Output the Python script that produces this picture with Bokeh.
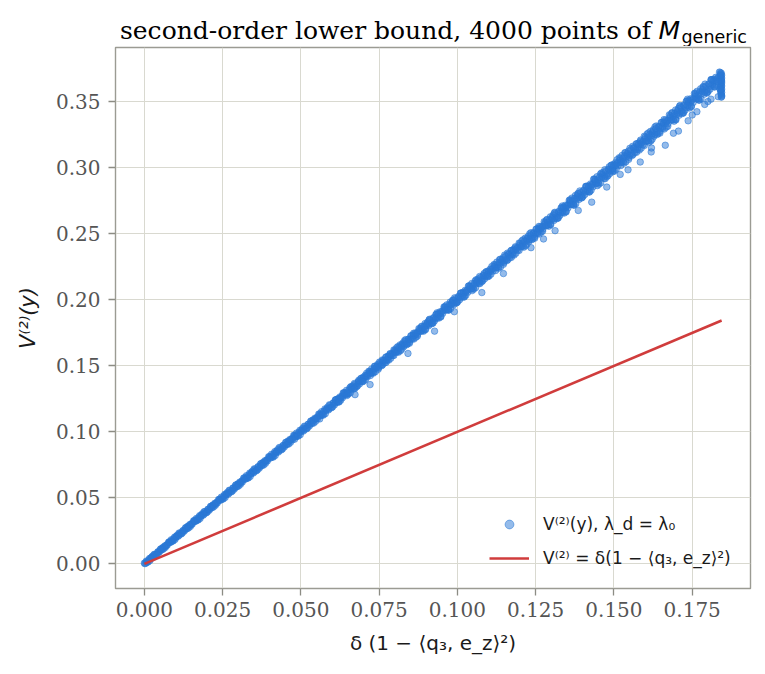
from bokeh.plotting import figure
from bokeh.layouts import column
from bokeh.models import Range1d, FixedTicker, PrintfTickFormatter, Label, Legend, LegendItem
from bokeh.embed import file_html
from bokeh.resources import INLINE

# ---- data (points of the scatter band) ----
xs = [
0.0000,0.0005,0.0008,0.0012,0.0017,0.0020,0.0023,0.0028,0.0031,0.0036,
0.0041,0.0044,0.0049,0.0053,0.0056,0.0059,0.0065,0.0067,0.0072,0.0077,
0.0080,0.0085,0.0088,0.0092,0.0097,0.0100,0.0103,0.0108,0.0111,0.0116,
0.0121,0.0124,0.0129,0.0133,0.0136,0.0139,0.0145,0.0147,0.0152,0.0157,
0.0160,0.0165,0.0168,0.0172,0.0177,0.0180,0.0183,0.0188,0.0191,0.0196,
0.0201,0.0204,0.0209,0.0213,0.0216,0.0219,0.0225,0.0227,0.0232,0.0237,
0.0240,0.0245,0.0248,0.0252,0.0257,0.0260,0.0263,0.0268,0.0271,0.0276,
0.0281,0.0284,0.0289,0.0293,0.0296,0.0299,0.0305,0.0307,0.0312,0.0317,
0.0320,0.0325,0.0328,0.0332,0.0337,0.0340,0.0343,0.0348,0.0351,0.0356,
0.0361,0.0364,0.0369,0.0373,0.0376,0.0379,0.0385,0.0387,0.0392,0.0397,
0.0400,0.0405,0.0408,0.0412,0.0417,0.0420,0.0423,0.0428,0.0431,0.0436,
0.0441,0.0444,0.0449,0.0453,0.0456,0.0459,0.0465,0.0467,0.0472,0.0477,
0.0480,0.0485,0.0488,0.0492,0.0497,0.0500,0.0503,0.0508,0.0511,0.0516,
0.0521,0.0524,0.0529,0.0533,0.0536,0.0539,0.0545,0.0547,0.0552,0.0557,
0.0560,0.0565,0.0568,0.0572,0.0577,0.0580,0.0583,0.0588,0.0591,0.0596,
0.0601,0.0604,0.0609,0.0613,0.0616,0.0619,0.0625,0.0627,0.0632,0.0637,
0.0640,0.0645,0.0648,0.0652,0.0657,0.0660,0.0663,0.0668,0.0671,0.0676,
0.0681,0.0684,0.0689,0.0693,0.0696,0.0699,0.0705,0.0707,0.0712,0.0717,
0.0720,0.0725,0.0728,0.0732,0.0737,0.0740,0.0743,0.0748,0.0751,0.0756,
0.0761,0.0764,0.0769,0.0773,0.0776,0.0779,0.0785,0.0787,0.0792,0.0797,
0.0800,0.0805,0.0808,0.0812,0.0817,0.0820,0.0823,0.0828,0.0831,0.0836,
0.0841,0.0844,0.0849,0.0853,0.0856,0.0859,0.0865,0.0867,0.0872,0.0877,
0.0880,0.0885,0.0888,0.0892,0.0897,0.0900,0.0903,0.0908,0.0911,0.0916,
0.0921,0.0924,0.0929,0.0933,0.0936,0.0939,0.0945,0.0947,0.0952,0.0957,
0.0960,0.0965,0.0968,0.0972,0.0977,0.0980,0.0983,0.0988,0.0991,0.0996,
0.1001,0.1004,0.1009,0.1013,0.1016,0.1019,0.1025,0.1027,0.1032,0.1037,
0.1040,0.1045,0.1048,0.1052,0.1057,0.1060,0.1063,0.1068,0.1071,0.1076,
0.1081,0.1084,0.1089,0.1093,0.1096,0.1099,0.1105,0.1107,0.1112,0.1117,
0.1120,0.1125,0.1128,0.1132,0.1137,0.1140,0.1143,0.1148,0.1151,0.1156,
0.1161,0.1164,0.1169,0.1173,0.1176,0.1179,0.1185,0.1187,0.1192,0.1197,
0.1200,0.1205,0.1208,0.1212,0.1217,0.1220,0.1223,0.1228,0.1231,0.1236,
0.1241,0.1244,0.1249,0.1253,0.1256,0.1259,0.1265,0.1267,0.1272,0.1277,
0.1280,0.1285,0.1288,0.1292,0.1297,0.1300,0.1303,0.1308,0.1311,0.1316,
0.1321,0.1324,0.1329,0.1333,0.1336,0.1339,0.1345,0.1347,0.1352,0.1357,
0.1360,0.1365,0.1368,0.1372,0.1377,0.1380,0.1383,0.1388,0.1391,0.1396,
0.1401,0.1404,0.1409,0.1413,0.1416,0.1419,0.1425,0.1427,0.1432,0.1437,
0.1440,0.1445,0.1448,0.1452,0.1457,0.1460,0.1463,0.1468,0.1471,0.1476,
0.1481,0.1484,0.1489,0.1493,0.1496,0.1499,0.1505,0.1507,0.1512,0.1517,
0.1520,0.1525,0.1528,0.1532,0.1537,0.1540,0.1543,0.1548,0.1551,0.1556,
0.1561,0.1564,0.1569,0.1573,0.1576,0.1579,0.1585,0.1587,0.1592,0.1597,
0.1600,0.1605,0.1608,0.1612,0.1617,0.1620,0.1623,0.1628,0.1631,0.1636,
0.1641,0.1644,0.1649,0.1653,0.1656,0.1659,0.1665,0.1667,0.1672,0.1677,
0.1680,0.1685,0.1688,0.1692,0.1697,0.1700,0.1703,0.1708,0.1711,0.1716,
0.1721,0.1724,0.1729,0.1733,0.1736,0.1739,0.1745,0.1747,0.1752,0.1757,
0.1760,0.1765,0.1768,0.1772,0.1777,0.1780,0.1783,0.1788,0.1791,0.1796,
0.1801,0.1804,0.1809,0.1813,0.1816,0.1819,0.1825,0.1827,0.1832,0.1837,
0.1840,0.1843,0.1841,0.1844,0.1842,0.1839,0.1844,0.1843,0.1841,0.1844,
0.1842,0.1844,0.1840,0.1843,0.1844,0.1842,0.1838,0.1844,0.1843,0.1841,
0.1844,0.1842,0.1843,0.1844,0.1839,0.1844,0.1843,0.1842,
0.1664,0.1706,0.1619,0.1477,0.1765,0.1737,0.1833,0.1386,0.1429,0.1584,
0.0927,0.1147,0.1078,0.0721,0.0673,0.0842,0.1275,0.1312,0.1545,0.1690,
0.1790,0.1800,0.1520,0.1235,0.0990,0.0560,0.0480,0.1620,0.1750,0.1810,
.0002,.0006,.0010,.0014,.0018,.0022,.0026,.0030,.0034,.0038,
.0043,.0047,.0051,.0055,.0059,.0061,.0065,.0069,.0073,.0079,
.0082,.0086,.0090,.0094,.0098,.0102,.0106,.0110,.0114,.0118,
.0123,.0127,.0131,.0135,.0139,.0141,.0145,.0149,.0153,.0159,
.0162,.0166,.0170,.0174,.0178,.0182,.0186,.0190,.0194,.0198,
.0203,.0207,.0211,.0215,.0219,.0221,.0225,.0229,.0233,.0239,
.0242,.0246,.0250,.0254,.0258,.0262,.0266,.0270,.0274,.0278,
.0283,.0287,.0291,.0295,.0299,.0301,.0305,.0309,.0313,.0319,
.0322,.0326,.0330,.0334,.0338,.0342,.0346,.0350,.0354,.0358,
.0363,.0367,.0371,.0375,.0379,.0381,.0385,.0389,.0393,.0399,
.0402,.0406,.0410,.0414,.0418,.0422,.0426,.0430,.0434,.0438,
.0443,.0447,.0451,.0455,.0459,.0461,.0465,.0469,.0473,.0479,
.0482,.0486,.0490,.0494,.0498,.0502,.0506,.0510,.0514,.0518,
.0523,.0527,.0531,.0535,.0539,.0541,.0545,.0549,.0553,.0559,
.0562,.0566,.0570,.0574,.0578,.0582,.0586,.0590,.0594,.0598,
.0603,.0607,.0611,.0615,.0619,.0621,.0625,.0629,.0633,.0639,
.0642,.0646,.0650,.0654,.0658,.0662,.0666,.0670,.0674,.0678,
.0683,.0687,.0691,.0695,.0699,.0701,.0705,.0709,.0713,.0719,
.0722,.0726,.0730,.0734,.0738,.0742,.0746,.0750,.0754,.0758,
.0763,.0767,.0771,.0775,.0779,.0781,.0785,.0789,.0793,.0799,
.0802,.0806,.0810,.0814,.0818,.0822,.0826,.0830,.0834,.0838,
.0843,.0847,.0851,.0855,.0859,.0861,.0865,.0869,.0873,.0879,
.0882,.0886,.0890,.0894,.0898,.0902,.0906,.0910,.0914,.0918,
.0923,.0927,.0931,.0935,.0939,.0941,.0945,.0949,.0953,.0959,
.0962,.0966,.0970,.0974,.0978,.0982,.0986,.0990,.0994,.0998,
.1003,.1007,.1011,.1015,.1019,.1021,.1025,.1029,.1033,.1039,
.1042,.1046,.1050,.1054,.1058,.1062,.1066,.1070,.1074,.1078,
.1083,.1087,.1091,.1095,.1099,.1101,.1105,.1109,.1113,.1119,
.1122,.1126,.1130,.1134,.1138,.1142,.1146,.1150,.1154,.1158,
.1163,.1167,.1171,.1175,.1179,.1181,.1185,.1189,.1193,.1199,
.1202,.1206,.1210,.1214,.1218,.1222,.1226,.1230,.1234,.1238,
.1243,.1247,.1251,.1255,.1259,.1261,.1265,.1269,.1273,.1279,
.1282,.1286,.1290,.1294,.1298,.1302,.1306,.1310,.1314,.1318,
.1323,.1327,.1331,.1335,.1339,.1341,.1345,.1349,.1353,.1359,
.1362,.1366,.1370,.1374,.1378,.1382,.1386,.1390,.1394,.1398,
.1403,.1407,.1411,.1415,.1419,.1421,.1425,.1429,.1433,.1439,
.1442,.1446,.1450,.1454,.1458,.1462,.1466,.1470,.1474,.1478,
.1483,.1487,.1491,.1495,.1499,.1501,.1505,.1509,.1513,.1519,
.1522,.1526,.1530,.1534,.1538,.1542,.1546,.1550,.1554,.1558,
.1563,.1567,.1571,.1575,.1579,.1581,.1585,.1589,.1593,.1599,
.1602,.1606,.1610,.1614,.1618,.1622,.1626,.1630,.1634,.1638,
.1643,.1647,.1651,.1655,.1659,.1661,.1665,.1669,.1673,.1679,
.1682,.1686,.1690,.1694,.1698,.1702,.1706,.1710,.1714,.1718,
.1723,.1727,.1731,.1735,.1739,.1741,.1745,.1749,.1753,.1759,
.1762,.1766,.1770,.1774,.1778,.1782,.1786,.1790,.1794,.1798,
.1803,.1807,.1811,.1815,.1819,.1821,.1825,.1829,.1833,.1839,
.0610,.0635,.0660,.0685,.0710,.0735,.0760,.0785,.0810,.0835,
.0860,.0885,.0910,.0935,.0960,.0985,.1010,.1035,.1060,.1085,
.1110,.1135,.1160,.1185,.1210,.1235,.1260,.1285,.1310,.1335,
.1360,.1385,.1410,.1435,.1460,.1485,.1510,.1535,.1560,.1585,
.1610,.1635,.1660,.1685,.1710,.1735,.1760,.1785,.1810,
.0622,.0647,.0672,.0697,.0722,.0747,.0772,.0797,.0822,.0847,
.0872,.0897,.0922,.0947,.0972,.0997,.1022,.1047,.1072,.1097,
.1122,.1147,.1172,.1197,.1222,.1247,.1272,.1297,.1322,.1347,
.1372,.1397,.1422,.1447,.1472,.1497,.1522,.1547,.1572,.1597,
.1622,.1647,.1672,.1697,.1722,.1747,.1772,.1797,.1822,
]
ys = [
0.0006,0.0006,0.0017,0.0015,0.0042,0.0039,0.0050,0.0050,0.0072,0.0069,
0.0074,0.0092,0.0096,0.0114,0.0107,0.0124,0.0130,0.0125,0.0146,0.0164,
0.0168,0.0166,0.0178,0.0174,0.0204,0.0199,0.0211,0.0209,0.0234,0.0229,
0.0234,0.0252,0.0256,0.0276,0.0266,0.0285,0.0291,0.0284,0.0307,0.0326,
0.0329,0.0325,0.0338,0.0333,0.0366,0.0359,0.0372,0.0369,0.0396,0.0389,
0.0393,0.0413,0.0416,0.0437,0.0426,0.0446,0.0451,0.0444,0.0468,0.0488,
0.0490,0.0485,0.0499,0.0492,0.0527,0.0520,0.0533,0.0528,0.0558,0.0549,
0.0552,0.0574,0.0576,0.0599,0.0585,0.0607,0.0611,0.0603,0.0629,0.0650,
0.0652,0.0645,0.0659,0.0651,0.0689,0.0680,0.0694,0.0688,0.0720,0.0709,
0.0712,0.0735,0.0736,0.0760,0.0745,0.0769,0.0772,0.0762,0.0789,0.0812,
0.0813,0.0805,0.0820,0.0809,0.0851,0.0840,0.0855,0.0847,0.0882,0.0869,
0.0871,0.0896,0.0896,0.0922,0.0905,0.0930,0.0932,0.0921,0.0950,0.0974,
0.0974,0.0964,0.0980,0.0968,0.1012,0.1000,0.1016,0.1006,0.1043,0.1028,
0.1030,0.1057,0.1056,0.1083,0.1064,0.1091,0.1093,0.1080,0.1111,0.1135,
0.1136,0.1124,0.1141,0.1127,0.1174,0.1161,0.1177,0.1166,0.1205,0.1188,
0.1189,0.1218,0.1217,0.1245,0.1224,0.1252,0.1253,0.1239,0.1272,0.1297,
0.1297,0.1284,0.1302,0.1286,0.1336,0.1321,0.1339,0.1325,0.1367,0.1348,
0.1349,0.1379,0.1377,0.1406,0.1383,0.1413,0.1413,0.1398,0.1432,0.1459,
0.1459,0.1444,0.1462,0.1445,0.1497,0.1481,0.1500,0.1485,0.1529,0.1508,
0.1508,0.1540,0.1537,0.1568,0.1543,0.1575,0.1574,0.1557,0.1593,0.1621,
0.1620,0.1603,0.1623,0.1604,0.1659,0.1641,0.1661,0.1644,0.1691,0.1668,
0.1667,0.1700,0.1697,0.1729,0.1703,0.1736,0.1734,0.1716,0.1754,0.1783,
0.1781,0.1763,0.1783,0.1763,0.1821,0.1802,0.1822,0.1804,0.1853,0.1828,
0.1826,0.1861,0.1857,0.1891,0.1862,0.1897,0.1895,0.1876,0.1914,0.1945,
0.1943,0.1923,0.1944,0.1922,0.1983,0.1962,0.1983,0.1963,0.2015,0.1988,
0.1986,0.2022,0.2017,0.2052,0.2022,0.2058,0.2055,0.2035,0.2075,0.2106,
0.2104,0.2083,0.2104,0.2081,0.2144,0.2122,0.2144,0.2123,0.2177,0.2148,
0.2145,0.2183,0.2177,0.2214,0.2181,0.2219,0.2215,0.2194,0.2236,0.2268,
0.2265,0.2243,0.2265,0.2240,0.2306,0.2282,0.2305,0.2282,0.2339,0.2308,
0.2304,0.2344,0.2337,0.2375,0.2341,0.2381,0.2376,0.2353,0.2397,0.2430,
0.2427,0.2402,0.2425,0.2399,0.2468,0.2443,0.2466,0.2441,0.2501,0.2468,
0.2464,0.2505,0.2497,0.2537,0.2501,0.2542,0.2536,0.2512,0.2557,0.2592,
0.2588,0.2562,0.2586,0.2558,0.2629,0.2603,0.2627,0.2601,0.2663,0.2628,
0.2623,0.2666,0.2657,0.2698,0.2660,0.2703,0.2697,0.2671,0.2718,0.2754,
0.2749,0.2722,0.2747,0.2717,0.2791,0.2763,0.2788,0.2760,0.2825,0.2788,
0.2782,0.2827,0.2817,0.2860,0.2820,0.2864,0.2857,0.2830,0.2879,0.2916,
0.2911,0.2882,0.2907,0.2876,0.2953,0.2923,0.2949,0.2920,0.2986,0.2947,
0.2941,0.2987,0.2977,0.3021,0.2979,0.3025,0.3017,0.2989,0.3039,0.3077,
0.3072,0.3041,0.3068,0.3035,0.3114,0.3084,0.3110,0.3079,0.3148,0.3107,
0.3101,0.3148,0.3138,0.3183,0.3139,0.3187,0.3178,0.3149,0.3200,0.3239,
0.3233,0.3201,0.3228,0.3194,0.3276,0.3244,0.3271,0.3239,0.3310,0.3267,
0.3260,0.3309,0.3298,0.3344,0.3299,0.3348,0.3338,0.3308,0.3361,0.3401,
0.3395,0.3361,0.3389,0.3353,0.3438,0.3404,0.3432,0.3398,0.3472,0.3427,
0.3419,0.3470,0.3458,0.3506,0.3458,0.3509,0.3499,0.3467,0.3522,0.3563,
0.3556,0.3521,0.3549,0.3512,0.3599,0.3564,0.3593,0.3557,0.3634,0.3587,
0.3579,0.3631,0.3618,0.3668,0.3618,0.3670,0.3659,0.3626,0.3682,0.3725,
0.3721,0.3716,0.3709,0.3702,0.3695,0.3688,0.3680,0.3672,0.3665,0.3657,
0.3650,0.3643,0.3636,0.3628,0.3620,0.3612,0.3604,0.3596,0.3588,0.3580,
0.3571,0.3563,0.3555,0.3547,0.3594,0.3540,0.3535,0.3661,
0.3171,0.3278,0.3120,0.2854,0.3425,0.3356,0.3539,0.2677,0.2740,0.3044,
0.1763,0.2199,0.2055,0.1358,0.1282,0.1594,0.2461,0.2524,0.2985,0.3262,
0.3480,0.3502,0.2950,0.2395,0.1910,0.1098,0.0945,0.3150,0.3400,0.3520,
.0002,.0021,.0014,.0032,.0026,.0046,.0059,.0056,.0073,.0068,
.0091,.0088,.0111,.0109,.0121,.0113,.0136,.0139,.0141,.0162,
.0162,.0183,.0174,.0193,.0185,.0206,.0220,.0216,.0234,.0227,
.0252,.0247,.0272,.0269,.0282,.0272,.0298,.0300,.0301,.0322,
.0322,.0344,.0333,.0354,.0344,.0367,.0382,.0376,.0396,.0387,
.0414,.0406,.0434,.0429,.0443,.0431,.0459,.0460,.0461,.0483,
.0482,.0506,.0493,.0515,.0503,.0528,.0543,.0536,.0557,.0546,
.0575,.0566,.0595,.0589,.0603,.0590,.0620,.0621,.0620,.0644,
.0642,.0668,.0652,.0676,.0662,.0688,.0705,.0696,.0718,.0705,
.0736,.0725,.0757,.0749,.0764,.0749,.0782,.0782,.0780,.0805,
.0802,.0830,.0812,.0836,.0821,.0849,.0866,.0856,.0879,.0864,
.0897,.0885,.0919,.0909,.0925,.0908,.0943,.0942,.0940,.0966,
.0962,.0991,.0971,.0997,.0979,.1009,.1027,.1015,.1040,.1023,
.1058,.1044,.1080,.1070,.1086,.1067,.1104,.1103,.1099,.1127,
.1123,.1153,.1131,.1158,.1138,.1170,.1189,.1175,.1202,.1183,
.1219,.1204,.1242,.1230,.1247,.1226,.1265,.1263,.1259,.1288,
.1283,.1315,.1290,.1319,.1297,.1331,.1350,.1335,.1363,.1342,
.1380,.1363,.1403,.1390,.1407,.1385,.1427,.1424,.1419,.1449,
.1443,.1477,.1450,.1480,.1456,.1491,.1512,.1495,.1524,.1501,
.1541,.1522,.1565,.1550,.1568,.1544,.1588,.1584,.1578,.1610,
.1603,.1638,.1610,.1641,.1615,.1652,.1673,.1655,.1685,.1660,
.1702,.1682,.1727,.1710,.1729,.1703,.1749,.1745,.1738,.1770,
.1763,.1800,.1769,.1802,.1774,.1813,.1835,.1815,.1846,.1819,
.1864,.1841,.1888,.1870,.1890,.1862,.1910,.1906,.1898,.1931,
.1923,.1962,.1929,.1963,.1933,.1973,.1996,.1974,.2008,.1979,
.2025,.2001,.2050,.2030,.2051,.2021,.2072,.2066,.2057,.2092,
.2083,.2124,.2088,.2124,.2092,.2134,.2158,.2134,.2169,.2138,
.2186,.2160,.2211,.2191,.2211,.2180,.2233,.2227,.2217,.2253,
.2243,.2286,.2248,.2285,.2250,.2295,.2319,.2294,.2330,.2297,
.2347,.2320,.2373,.2351,.2372,.2339,.2394,.2387,.2377,.2414,
.2403,.2447,.2407,.2446,.2409,.2455,.2480,.2454,.2491,.2456,
.2508,.2479,.2535,.2511,.2533,.2498,.2556,.2548,.2536,.2575,
.2563,.2609,.2567,.2607,.2568,.2616,.2642,.2614,.2652,.2615,
.2669,.2639,.2696,.2671,.2694,.2657,.2717,.2708,.2696,.2736,
.2723,.2771,.2726,.2768,.2727,.2776,.2803,.2774,.2814,.2775,
.2830,.2798,.2858,.2831,.2855,.2816,.2878,.2869,.2856,.2897,
.2883,.2933,.2886,.2929,.2886,.2937,.2965,.2934,.2975,.2934,
.2991,.2957,.3019,.2991,.3015,.2975,.3039,.3029,.3015,.3057,
.3043,.3094,.3045,.3090,.3045,.3098,.3126,.3093,.3136,.3093,
.3153,.3117,.3181,.3152,.3176,.3134,.3201,.3190,.3175,.3218,
.3204,.3256,.3205,.3251,.3204,.3258,.3288,.3253,.3297,.3252,
.3314,.3276,.3343,.3312,.3337,.3294,.3362,.3351,.3335,.3379,
.3364,.3418,.3364,.3412,.3363,.3419,.3449,.3413,.3458,.3411,
.3475,.3436,.3504,.3472,.3498,.3453,.3523,.3511,.3494,.3540,
.3524,.3580,.3524,.3573,.3522,.3580,.3610,.3573,.3620,.3571,
.3636,.3595,.3666,.3632,.3659,.3612,.3685,.3672,.3654,.3701,
.1242,.1294,.1343,.1391,.1444,.1497,.1545,.1593,.1646,.1699,
.1747,.1795,.1849,.1902,.1950,.1997,.2051,.2104,.2152,.2199,
.2253,.2306,.2354,.2402,.2455,.2509,.2556,.2604,.2657,.2711,
.2758,.2806,.2860,.2913,.2961,.3008,.3062,.3115,.3163,.3210,
.3264,.3317,.3365,.3413,.3466,.3520,.3567,.3615,.3668,
.1228,.1275,.1327,.1380,.1427,.1474,.1526,.1579,.1626,.1672,
.1725,.1778,.1824,.1871,.1924,.1977,.2023,.2070,.2123,.2175,
.2222,.2269,.2321,.2374,.2421,.2467,.2520,.2573,.2620,.2666,
.2719,.2772,.2818,.2865,.2918,.2971,.3017,.3064,.3117,.3169,
.3216,.3263,.3315,.3368,.3415,.3462,.3514,.3567,.3614,
]
line_x = [0.0, 0.1844]
line_y = [0.0, 0.1844]
x_ticks = [0.0, 0.025, 0.05, 0.075, 0.1, 0.125, 0.15, 0.175]
y_ticks = [0.0, 0.05, 0.10, 0.15, 0.20, 0.25, 0.30, 0.35]

title_main = "second-order lower bound, 4000 points of"
title_sym = "M"
title_sub = "generic"
xlabel = "δ (1 − ⟨q₃, e_z⟩²)"
ylabel = "V⁽²⁾(y)"
leg1 = "V⁽²⁾(y), λ_d = λ₀"
leg2 = "V⁽²⁾ = δ(1 − ⟨q₃, e_z⟩²)"

# ---- ranges with 5% margins like matplotlib ----
allx = xs + line_x
ally = ys + line_y
dx = (max(allx) - min(allx)) * 0.05
dy = (max(ally) - min(ally)) * 0.05

BLUE = "#2a78d6"
RED = "#d03c3c"
W = 760
LEFT, RIGHT, TOP_H = 115, 10, 46

# ---- title strip: its own small figure (frame aligned with the main frame),
#      x in page pixels, y in pixels up from the strip's bottom ----
tp = figure(width=W, height=TOP_H, x_range=Range1d(LEFT, W - RIGHT),
            y_range=Range1d(0, TOP_H),
            output_backend="svg", toolbar_location=None, title=None,
            x_axis_location=None, y_axis_location=None,
            min_border_left=LEFT, min_border_right=RIGHT,
            min_border_top=0, min_border_bottom=0,
            outline_line_color=None, background_fill_color="white",
            border_fill_color="white")
tp.grid.visible = False
tp.add_layout(Label(x=119.5, y=16.2, text=title_main, text_font="DejaVu Serif",
                    text_font_size="25px", text_color="black",
                    text_baseline="middle", text_align="left"))
tp.add_layout(Label(x=658, y=16.2, text=title_sym, text_font="DejaVu Sans",
                    text_font_style="italic", text_font_size="25px",
                    text_color="black", text_baseline="middle", text_align="left"))
tp.add_layout(Label(x=681, y=9.6, text=title_sub, text_font="DejaVu Sans",
                    text_font_size="17.5px", text_color="black",
                    text_baseline="middle", text_align="left"))

# ---- main plot ----
p = figure(frame_width=635, frame_height=541,
           x_range=Range1d(min(allx) - dx, max(allx) + dx),
           y_range=Range1d(min(ally) - dy, max(ally) + dy),
           output_backend="svg", toolbar_location=None, title=None,
           min_border_left=LEFT, min_border_right=RIGHT,
           min_border_top=1, min_border_bottom=80,
           background_fill_color="white", border_fill_color="white")

r1 = p.scatter(xs, ys, size=6.5, fill_color=BLUE, line_color=BLUE,
               fill_alpha=0.5, line_alpha=0.55, line_width=1)
r2 = p.line(line_x, line_y, line_color=RED, line_width=2.6)

p.xaxis.ticker = FixedTicker(ticks=x_ticks, minor_ticks=[])
p.yaxis.ticker = FixedTicker(ticks=y_ticks, minor_ticks=[])
p.xaxis.formatter = PrintfTickFormatter(format="%.3f")
p.yaxis.formatter = PrintfTickFormatter(format="%.2f")
for ax in (p.xaxis, p.yaxis):
    ax.axis_line_color = None
    ax.major_tick_line_color = "#8c8c84"
    ax.major_tick_line_width = 1.3
    ax.major_tick_out = 7
    ax.major_tick_in = 0
    ax.minor_tick_line_color = None
    ax.major_label_text_font = "DejaVu Serif"
    ax.major_label_text_font_size = "20px"
    ax.major_label_text_color = "#555555"
    ax.axis_label_text_font = "DejaVu Sans"
    ax.axis_label_text_color = "#1a1a1a"
p.xaxis.major_label_standoff = 6
p.yaxis.major_label_standoff = 8
p.xaxis.axis_label = xlabel
p.yaxis.axis_label = ylabel
p.xaxis.axis_label_text_font_size = "20px"
p.yaxis.axis_label_text_font_size = "21px"
p.xaxis.axis_label_text_font_style = "normal"
p.yaxis.axis_label_text_font_style = "italic"
p.xaxis.axis_label_standoff = 11
p.yaxis.axis_label_standoff = 13

p.xgrid.ticker = FixedTicker(ticks=x_ticks)
p.ygrid.ticker = FixedTicker(ticks=y_ticks)
p.grid.grid_line_color = "#d9d9d0"
p.grid.grid_line_width = 1

p.outline_line_color = "#9b9b93"
p.outline_line_width = 1.4

legend = Legend(items=[LegendItem(label=leg1, renderers=[r1]),
                       LegendItem(label=leg2, renderers=[r2])],
                location=(366, 11))
legend.label_text_font = "DejaVu Sans"
legend.label_text_font_size = "17px"
legend.label_text_color = "#1a1a1a"
legend.glyph_width = 40
legend.glyph_height = 22
legend.label_height = 22
legend.label_standoff = 14
legend.spacing = 12
legend.padding = 8
legend.border_line_alpha = 0
legend.background_fill_alpha = 0
p.add_layout(legend)

layout = column(tp, p, spacing=0)
open("out.html", "w").write(file_html(layout, INLINE))
